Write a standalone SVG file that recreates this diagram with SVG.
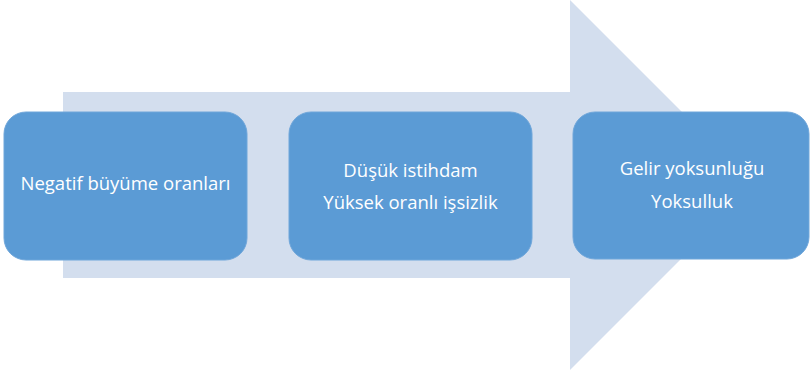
<svg xmlns="http://www.w3.org/2000/svg" width="810" height="377" viewBox="0 0 810 377">
<style>
.box{fill:#5b9bd5;stroke:#6fa6da;stroke-width:1}
.t{font-family:"Open Sans","Noto Sans",sans-serif;font-size:18.5px;fill:#ffffff;text-anchor:middle}
</style>
<rect width="810" height="377" fill="#ffffff"/>
<g id="connectors">
<polygon points="63,92 570,92 570,0 755,185 570,370 570,278 63,278" fill="#d3deee"/>
</g>
<g id="node1">
<rect class="box" x="4" y="112" width="243" height="148" rx="22"/>
<text class="t" x="125.5" y="190">Negatif büyüme oranları</text>
</g>
<g id="node2">
<rect class="box" x="289" y="112" width="243" height="148" rx="22"/>
<text class="t" x="410.5" y="177">Düşük istihdam</text>
<text class="t" x="410.5" y="209">Yüksek oranlı işsizlik</text>
</g>
<g id="node3">
<rect class="box" x="573" y="112" width="236" height="147" rx="22"/>
<text class="t" x="692" y="175">Gelir yoksunluğu</text>
<text class="t" x="692" y="208">Yoksulluk</text>
</g>
</svg>
